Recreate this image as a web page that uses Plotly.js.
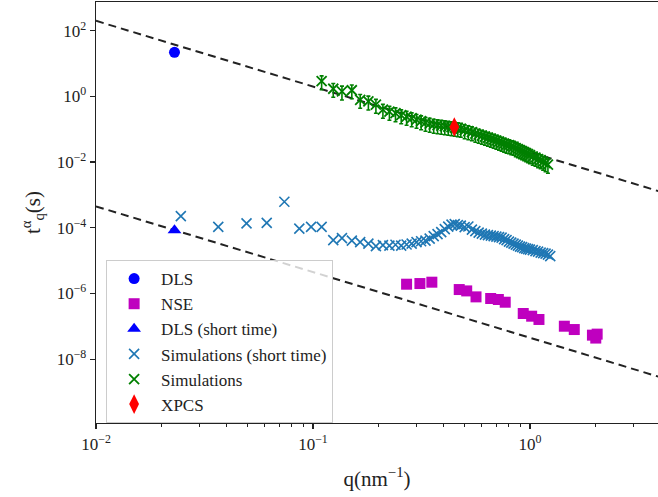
<!DOCTYPE html>
<html>
<head>
<meta charset="utf-8">
<script src="https://cdn.plot.ly/plotly-3.0.1.min.js"></script>
<style>html,body{margin:0;padding:0;background:#fff;overflow:hidden}</style>
</head>
<body>
<div id="chart" style="width:658px;height:497px"></div>
<script>
// ---- data ----
const dlsQ = [0.023];
const dlsT = [22];

const nseQ = [0.270, 0.311, 0.353, 0.472, 0.511, 0.564, 0.659, 0.715, 0.769, 0.931, 1.018, 1.10, 1.44, 1.60, 1.94, 2.04, 2.01];
const nseT = [1.92e-6, 2.01e-6, 2.21e-6, 1.32e-6, 1.20e-6, 7.9e-7, 7.05e-7, 6.57e-7, 5.43e-7, 2.46e-7, 2.04e-7, 1.62e-7, 1.01e-7, 8.0e-8, 5.4e-8, 5.8e-8, 4.4e-8];

const dlsShortQ = [0.023];
const dlsShortT = [8.5e-5];

const simShortQ = [0.0246, 0.0366, 0.0494, 0.0612, 0.0738, 0.0865, 0.098, 0.1096,
  0.124, 0.136, 0.151, 0.165, 0.18, 0.195, 0.21, 0.225, 0.24, 0.255, 0.27, 0.285, 0.30, 0.315, 0.33, 0.345,
  0.36, 0.375, 0.39, 0.405, 0.42, 0.435, 0.45, 0.465, 0.48, 0.50, 0.52, 0.54, 0.56, 0.58, 0.60, 0.62,
  0.64, 0.66, 0.68, 0.70, 0.72, 0.74, 0.76, 0.78, 0.80, 0.82, 0.84, 0.86, 0.88, 0.90, 0.92, 0.94,
  0.96, 0.98, 1.00, 1.03, 1.06, 1.09, 1.12, 1.15, 1.18, 1.21, 1.24];
const simShortT = [2.27e-4, 1.07e-4, 1.36e-4, 1.42e-4, 6.19e-4, 9.46e-5, 1.07e-4, 1.07e-4,
  4.22e-5, 4.86e-5, 4.08e-5, 3.67e-5, 3.30e-5, 2.77e-5, 2.97e-5, 2.87e-5, 3.05e-5, 2.87e-5, 3.10e-5, 3.30e-5, 3.67e-5, 3.90e-5, 4.08e-5, 4.69e-5,
  5.59e-5, 6.43e-5, 7.40e-5, 9.13e-5, 1.088e-4, 1.25e-4, 1.296e-4, 1.208e-4, 1.167e-4, 1.05e-4, 1.10e-4, 8.81e-5, 7.93e-5, 7.14e-5, 6.66e-5, 6.21e-5,
  5.99e-5, 5.79e-5, 5.59e-5, 5.40e-5, 5.21e-5, 5.03e-5, 4.53e-5, 4.22e-5, 3.80e-5, 3.54e-5, 3.30e-5, 3.08e-5, 2.87e-5, 2.68e-5, 2.59e-5, 2.41e-5,
  2.33e-5, 2.25e-5, 2.17e-5, 2.10e-5, 1.95e-5, 1.89e-5, 1.76e-5, 1.70e-5, 1.64e-5, 1.53e-5, 1.38e-5];

const simQ = [0.1096, 0.124, 0.136, 0.151, 0.165, 0.18, 0.195,
  0.21, 0.225, 0.24, 0.255, 0.27, 0.285, 0.30, 0.315, 0.33, 0.345, 0.36, 0.375, 0.39, 0.405, 0.42, 0.435,
  0.45, 0.465, 0.48, 0.50, 0.52, 0.54, 0.56, 0.58, 0.60, 0.62, 0.64, 0.66, 0.68, 0.70, 0.72, 0.74,
  0.76, 0.78, 0.80, 0.82, 0.84, 0.86, 0.88, 0.90, 0.92, 0.94, 0.96, 0.98, 1.00, 1.03, 1.06, 1.09,
  1.12, 1.15, 1.18, 1.21];
const simT = [2.90, 1.71, 1.42, 1.54, 0.79, 0.705, 0.559,
  0.394, 0.342, 0.308, 0.268, 0.241, 0.217, 0.195, 0.176, 0.158, 0.1475, 0.1375, 0.1328, 0.1282, 0.1238, 0.1196, 0.1155,
  0.1115, 0.1076, 0.1039, 0.0936, 0.0872, 0.0813, 0.0732, 0.0683, 0.0636, 0.0593, 0.0553, 0.0516, 0.0481, 0.0448, 0.0418, 0.0390,
  0.0363, 0.0339, 0.0327, 0.0305, 0.0294, 0.0265, 0.0247, 0.0230, 0.0215, 0.0200, 0.0187, 0.0174, 0.0162, 0.0146, 0.0136, 0.01225,
  0.01142, 0.01028, 0.00926, 0.00834];

const xpcsQ = [0.448];
const xpcsT = [0.117];

// axis tick labels
const xTickVals = [0.01, 0.1, 1];
const xTickText = ['10<sup>−2</sup>', '10<sup>−1</sup>', '10<sup>0</sup>'];
const yTickVals = [1e-8, 1e-6, 1e-4, 1e-2, 1, 100];
const yTickText = ['10<sup>−8</sup>', '10<sup>−6</sup>', '10<sup>−4</sup>', '10<sup>−2</sup>', '10<sup>0</sup>', '10<sup>2</sup>'];

// power-law guide lines t = A q^-2
const guideQ = [0.01, 4];
const upperA = 0.02;
const lowerA = 4.5e-8;
const guideExp = -2;

const serif = '"Liberation Serif", "Times New Roman", serif';

const traces = [
  {x: guideQ, y: guideQ.map(q => upperA * Math.pow(q, guideExp)), mode: 'lines', showlegend: false,
   line: {color: '#222', width: 2, dash: '8px,5px'}, hoverinfo: 'skip'},
  {x: guideQ, y: guideQ.map(q => lowerA * Math.pow(q, guideExp)), mode: 'lines', showlegend: false,
   line: {color: '#222', width: 2, dash: '8px,5px'}, hoverinfo: 'skip'},
  {x: dlsQ, y: dlsT, mode: 'markers', name: 'DLS',
   marker: {symbol: 'circle', size: 11, color: '#0000ff'}},
  {x: nseQ, y: nseT, mode: 'markers', name: 'NSE',
   marker: {symbol: 'square', size: 11, color: '#bf00bf'}},
  {x: dlsShortQ, y: dlsShortT, mode: 'markers', name: 'DLS (short time)',
   marker: {symbol: 'triangle-up', size: 12, color: '#0000ff'}},
  {x: simShortQ, y: simShortT, mode: 'markers', name: 'Simulations (short time)',
   marker: {symbol: 'x-thin-open', size: 10, color: '#1f77b4', line: {width: 1.6, color: '#1f77b4'}}},
  {x: simQ, y: simT, mode: 'markers', name: 'Simulations',
   marker: {symbol: 'x-thin-open', size: 10, color: '#008000', line: {width: 1.8, color: '#008000'}},
   error_y: {type: 'percent', value: 45, color: '#008000', thickness: 1.6, width: 2}},
  {x: xpcsQ, y: xpcsT, mode: 'markers', name: 'XPCS',
   marker: {symbol: 'diamond-tall', size: 14, color: '#ff0000'}}
];

const layout = {
  width: 658, height: 497,
  margin: {l: 96, r: 0, t: 2, b: 74},
  paper_bgcolor: '#fff', plot_bgcolor: '#fff',
  font: {family: serif, size: 17, color: '#222'},
  showlegend: true,
  legend: {x: 0.018, y: 0.387, xanchor: 'left', yanchor: 'top',
    bgcolor: 'rgba(255,255,255,0.8)', bordercolor: '#cccccc', borderwidth: 1,
    itemwidth: 44,
    font: {family: serif, size: 17, color: '#222'}, tracegroupgap: 0},
  xaxis: {type: 'log', range: [-2, 0.59], showgrid: false, zeroline: false,
    showline: true, linecolor: '#222', linewidth: 1.3, mirror: true,
    ticks: 'outside', ticklen: 5, tickwidth: 1.3, tickcolor: '#222',
    tickmode: 'array', tickvals: xTickVals, ticktext: xTickText,
    tickfont: {family: serif, size: 17, color: '#222'},
    minor: {ticks: 'outside', ticklen: 3, tickwidth: 1, tickcolor: '#222', dtick: 'D1', showgrid: false},
    title: {text: 'q(nm<sup>−1</sup>)', font: {family: serif, size: 21, color: '#222'}, standoff: 18},
    automargin: false},
  yaxis: {type: 'log', range: [-9.942, 2.874], showgrid: false, zeroline: false,
    showline: true, linecolor: '#222', linewidth: 1.3, mirror: false,
    ticks: 'outside', ticklen: 5, tickwidth: 1.3, tickcolor: '#222',
    tickmode: 'array', tickvals: yTickVals, ticktext: yTickText,
    tickfont: {family: serif, size: 17, color: '#222'},
    title: {text: 't<sup>α</sup><sub>q</sub>(s)', font: {family: serif, size: 21, color: '#222'}, standoff: 10},
    automargin: false}
};

Plotly.newPlot('chart', traces, layout, {displayModeBar: false, staticPlot: true});
</script>
</body>
</html>
